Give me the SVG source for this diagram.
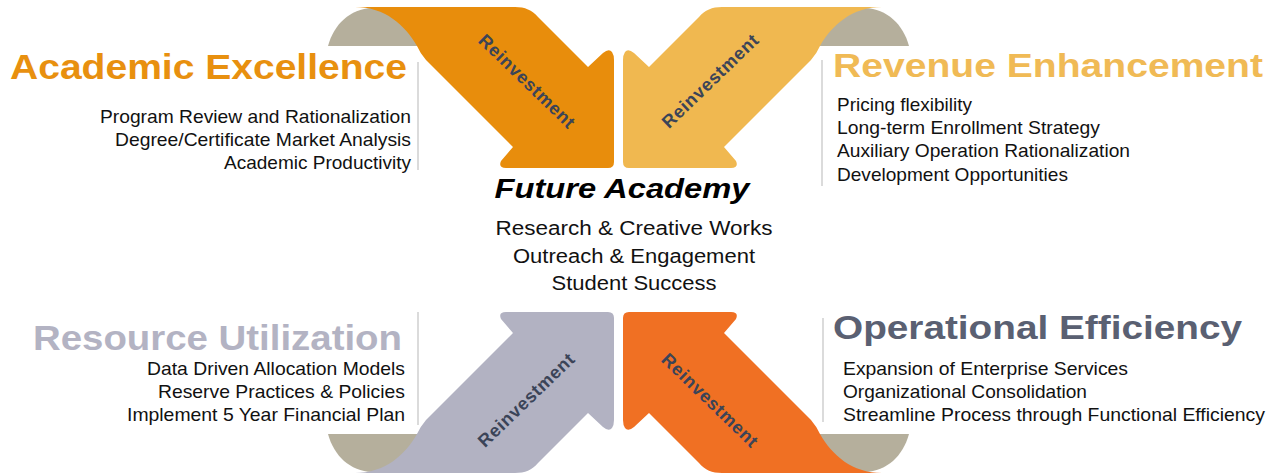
<svg xmlns="http://www.w3.org/2000/svg" xmlns:xlink="http://www.w3.org/1999/xlink" width="1288" height="475" viewBox="0 0 1288 475">
<style>
  .curl { fill: #B5AF9C; }
  .title { font-family: "Liberation Sans", Arial, sans-serif; font-weight: bold; }
  .body { font-family: "Liberation Sans", Arial, sans-serif; font-size: 18.5px; fill: #111111; }
  .center { font-family: "Liberation Sans", Arial, sans-serif; font-size: 20px; fill: #111111; text-anchor: middle; }
  .reinv { font-family: "Liberation Sans", Arial, sans-serif; font-weight: bold; font-size: 18px; fill: #3B4458; text-anchor: middle; }
  .sep { stroke: #CFCFCF; stroke-width: 1.5; fill: none; }
</style>
<defs>
  <path id="curlShape" d="M328,46 C334,24 350,9 372,8 L440,8 L440,46 Z"/>
  <path id="arrowShape" d="M355,7 L515,7 C525,7 532,10 538,17 L588,67 L603,53 Q609,48 612,52 Q614,55 614,60 L614,162 Q614,168 608,168 L506,168 Q498,168 501,161 L513,147 L426,60 Q420,53 417,46 C405,25 385,7 355,7 Z"/>
</defs>
<rect width="1288" height="475" fill="#FFFFFF"/>

<g id="arrow-academic">
  <use xlink:href="#curlShape" class="curl"/>
  <use xlink:href="#arrowShape" fill="#E88D0C"/>
  <text class="reinv" transform="translate(527,81) rotate(44)" dy="0.35em" textLength="126" lengthAdjust="spacing">Reinvestment</text>
</g>
<g id="arrow-revenue">
  <g transform="translate(1237,0) scale(-1,1)">
    <use xlink:href="#curlShape" class="curl"/>
    <use xlink:href="#arrowShape" fill="#F0B850"/>
  </g>
  <text class="reinv" transform="translate(710,81) rotate(-44)" dy="0.35em" textLength="126" lengthAdjust="spacing">Reinvestment</text>
</g>
<g id="arrow-resource">
  <g transform="translate(0,480) scale(1,-1)">
    <use xlink:href="#curlShape" class="curl"/>
    <use xlink:href="#arrowShape" fill="#B2B2C2"/>
  </g>
  <text class="reinv" transform="translate(526,400) rotate(-44)" dy="0.35em" textLength="126" lengthAdjust="spacing">Reinvestment</text>
</g>
<g id="arrow-operational">
  <g transform="translate(1237,480) scale(-1,-1)">
    <use xlink:href="#curlShape" class="curl"/>
    <use xlink:href="#arrowShape" fill="#F07023"/>
  </g>
  <text class="reinv" transform="translate(710,400) rotate(44)" dy="0.35em" textLength="126" lengthAdjust="spacing">Reinvestment</text>
</g>

<g id="academic-excellence">
  <line class="sep" x1="418" y1="62" x2="418" y2="170"/>
  <text class="title" x="10" y="79" font-size="35" fill="#E8900F" textLength="397" lengthAdjust="spacingAndGlyphs">Academic Excellence</text>
  <text class="body" x="411" y="123" text-anchor="end" textLength="311" lengthAdjust="spacingAndGlyphs">Program Review and Rationalization</text>
  <text class="body" x="411" y="146" text-anchor="end" textLength="296" lengthAdjust="spacingAndGlyphs">Degree/Certificate Market Analysis</text>
  <text class="body" x="411" y="169" text-anchor="end" textLength="187" lengthAdjust="spacingAndGlyphs">Academic Productivity</text>
</g>

<g id="revenue-enhancement">
  <line class="sep" x1="822" y1="60" x2="822" y2="186"/>
  <text class="title" x="833" y="77" font-size="34" fill="#F0BA55" textLength="430" lengthAdjust="spacingAndGlyphs">Revenue Enhancement</text>
  <text class="body" x="837" y="111" textLength="135" lengthAdjust="spacingAndGlyphs">Pricing flexibility</text>
  <text class="body" x="837" y="134" textLength="263" lengthAdjust="spacingAndGlyphs">Long-term Enrollment Strategy</text>
  <text class="body" x="837" y="157" textLength="293" lengthAdjust="spacingAndGlyphs">Auxiliary Operation Rationalization</text>
  <text class="body" x="837" y="181" textLength="231" lengthAdjust="spacingAndGlyphs">Development Opportunities</text>
</g>

<g id="future-academy">
  <text x="622" y="198" font-family="Liberation Sans, Arial, sans-serif" font-weight="bold" font-style="italic" font-size="28" fill="#000000" text-anchor="middle" textLength="255" lengthAdjust="spacingAndGlyphs">Future Academy</text>
  <text class="center" x="634" y="235" textLength="277" lengthAdjust="spacingAndGlyphs">Research &amp; Creative Works</text>
  <text class="center" x="634" y="263" textLength="242" lengthAdjust="spacingAndGlyphs">Outreach &amp; Engagement</text>
  <text class="center" x="634" y="290" textLength="165" lengthAdjust="spacingAndGlyphs">Student Success</text>
</g>

<g id="resource-utilization">
  <line class="sep" x1="418" y1="312" x2="418" y2="425"/>
  <text class="title" x="33" y="350" font-size="35" fill="#B3B3C3" textLength="369" lengthAdjust="spacingAndGlyphs">Resource Utilization</text>
  <text class="body" x="405" y="375" text-anchor="end" textLength="258" lengthAdjust="spacingAndGlyphs">Data Driven Allocation Models</text>
  <text class="body" x="405" y="398" text-anchor="end" textLength="247" lengthAdjust="spacingAndGlyphs">Reserve Practices &amp; Policies</text>
  <text class="body" x="405" y="421" text-anchor="end" textLength="278" lengthAdjust="spacingAndGlyphs">Implement 5 Year Financial Plan</text>
</g>

<g id="operational-efficiency">
  <line class="sep" x1="823" y1="318" x2="823" y2="422"/>
  <text class="title" x="833" y="339" font-size="34" fill="#5A6072" textLength="409" lengthAdjust="spacingAndGlyphs">Operational Efficiency</text>
  <text class="body" x="843" y="375" textLength="285" lengthAdjust="spacingAndGlyphs">Expansion of Enterprise Services</text>
  <text class="body" x="843" y="398" textLength="244" lengthAdjust="spacingAndGlyphs">Organizational Consolidation</text>
  <text class="body" x="843" y="421" textLength="422" lengthAdjust="spacingAndGlyphs">Streamline Process through Functional Efficiency</text>
</g>
</svg>
